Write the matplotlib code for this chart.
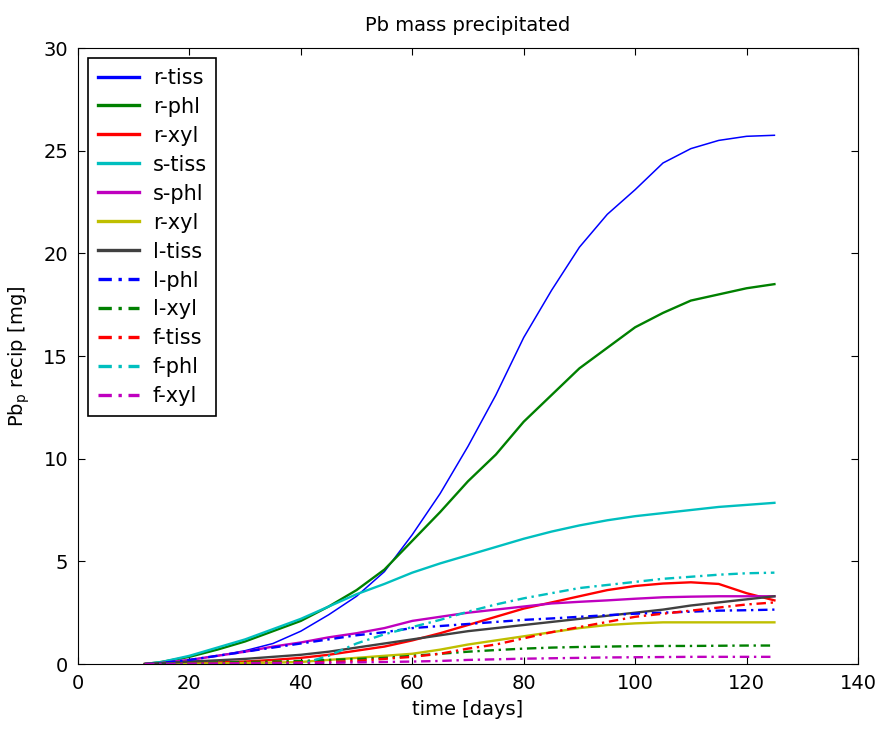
import matplotlib
matplotlib.use("Agg")
import matplotlib.pyplot as plt

# Час (дні) та кількість осадженого Pb для кожної серії
days = [12, 15, 20, 25, 30, 35, 40, 45, 50, 55, 60, 65, 70, 75, 80, 85, 90, 95, 100, 105, 110, 115, 120, 125]

r_tiss = [0, 0.05, 0.2, 0.4, 0.65, 1.0, 1.6, 2.4, 3.3, 4.5, 6.3, 8.3, 10.6, 13.1, 15.9, 18.2, 20.3, 21.9, 23.1, 24.4, 25.1, 25.5, 25.7, 25.75]
r_phl = [0, 0.1, 0.35, 0.7, 1.1, 1.6, 2.1, 2.8, 3.6, 4.6, 6.0, 7.4, 8.9, 10.2, 11.8, 13.1, 14.4, 15.4, 16.4, 17.1, 17.7, 18.0, 18.3, 18.5]
r_xyl = [0, 0.02, 0.05, 0.08, 0.12, 0.2, 0.3, 0.45, 0.65, 0.85, 1.15, 1.5, 1.9, 2.3, 2.7, 3.0, 3.3, 3.6, 3.8, 3.92, 3.98, 3.9, 3.45, 3.1]
s_tiss = [0, 0.1, 0.4, 0.8, 1.2, 1.7, 2.2, 2.8, 3.4, 3.9, 4.45, 4.9, 5.3, 5.7, 6.1, 6.45, 6.75, 7.0, 7.2, 7.35, 7.5, 7.65, 7.75, 7.85]
s_phl = [0, 0.05, 0.2, 0.4, 0.6, 0.85, 1.05, 1.3, 1.5, 1.75, 2.1, 2.3, 2.5, 2.65, 2.8, 2.95, 3.03, 3.1, 3.18, 3.25, 3.28, 3.3, 3.3, 3.3]
r_xyl2 = [0, 0, 0.02, 0.03, 0.05, 0.07, 0.1, 0.2, 0.3, 0.4, 0.5, 0.7, 0.95, 1.15, 1.35, 1.55, 1.75, 1.9, 1.98, 2.03, 2.03, 2.03, 2.03, 2.03]
l_tiss = [0, 0.05, 0.12, 0.18, 0.25, 0.35, 0.45, 0.6, 0.8, 1.0, 1.2, 1.4, 1.6, 1.75, 1.9, 2.05, 2.2, 2.35, 2.5, 2.65, 2.85, 3.0, 3.15, 3.3]
l_phl = [0, 0.05, 0.2, 0.4, 0.6, 0.8, 1.0, 1.2, 1.4, 1.55, 1.75, 1.85, 1.95, 2.05, 2.15, 2.22, 2.3, 2.38, 2.45, 2.5, 2.55, 2.6, 2.62, 2.65]
l_xyl = [0, 0.02, 0.05, 0.07, 0.1, 0.12, 0.15, 0.2, 0.25, 0.3, 0.4, 0.5, 0.6, 0.68, 0.75, 0.8, 0.83, 0.85, 0.87, 0.88, 0.88, 0.89, 0.9, 0.9]
f_tiss = [0, 0, 0.02, 0.03, 0.05, 0.06, 0.08, 0.1, 0.15, 0.25, 0.35, 0.5, 0.75, 0.95, 1.25, 1.55, 1.8, 2.05, 2.3, 2.45, 2.6, 2.75, 2.9, 3.0]
f_phl = [0, 0, 0, 0, 0, 0, 0, 0.4, 1.0, 1.45, 1.8, 2.15, 2.55, 2.9, 3.2, 3.45, 3.7, 3.85, 4.0, 4.15, 4.25, 4.35, 4.42, 4.45]
f_xyl = [0, 0, 0.01, 0.02, 0.03, 0.04, 0.05, 0.06, 0.08, 0.1, 0.12, 0.15, 0.2, 0.23, 0.26, 0.28, 0.3, 0.32, 0.33, 0.34, 0.35, 0.35, 0.35, 0.35]

labels = ["r-tiss", "r-phl", "r-xyl", "s-tiss", "s-phl", "r-xyl",
          "l-tiss", "l-phl", "l-xyl", "f-tiss", "f-phl", "f-xyl"]
series = [r_tiss, r_phl, r_xyl, s_tiss, s_phl, r_xyl2,
          l_tiss, l_phl, l_xyl, f_tiss, f_phl, f_xyl]

# кольори як у MATLAB
colors = [(0, 0, 1), (0, 0.5, 0), (1, 0, 0), (0, 0.75, 0.75), (0.75, 0, 0.75),
          (0.75, 0.75, 0), (0.25, 0.25, 0.25)]
colors = colors + colors[:5]

plt.rcParams['font.family'] = ['DejaVu Sans']
plt.rcParams['font.size'] = 14

fig = plt.figure(figsize=(8.8, 7.33), dpi=100)
ax = fig.add_axes([0.0886, 0.0941, 0.8864, 0.8404])

for i, (y, lab) in enumerate(zip(series, labels)):
    lw = 1.1 if i == 0 else 1.7
    if i < 7:
        ax.plot(days, y, color=colors[i], lw=lw, label=lab)
    else:
        ax.plot(days, y, color=colors[i], lw=lw, label=lab,
                dashes=(4, 2, 1, 2))

ax.set_xlim(0, 140)
ax.set_ylim(0, 30)
ax.set_xticks(range(0, 141, 20))
ax.set_yticks(range(0, 31, 5))
ax.tick_params(direction='in', top=True, right=True, length=5,
               labelsize=14, pad=7)
ax.set_xlabel("time [days]", fontsize=14, labelpad=5)
ax.set_ylabel("Pb$_\\mathrm{p}$ recip [mg]", fontsize=14, labelpad=8)
ax.set_title("Pb mass precipitated", fontsize=14, pad=12)

leg = ax.legend(loc='upper left', fontsize=15, handlelength=2.0,
                handletextpad=0.65, labelspacing=0.43, borderpad=0.45,
                fancybox=False, framealpha=1, edgecolor='black',
                borderaxespad=0.5)
leg.get_frame().set_linewidth(1.2)
for h in leg.get_lines():
    h.set_linewidth(2.4)

fig.savefig("out.png", dpi=100)
